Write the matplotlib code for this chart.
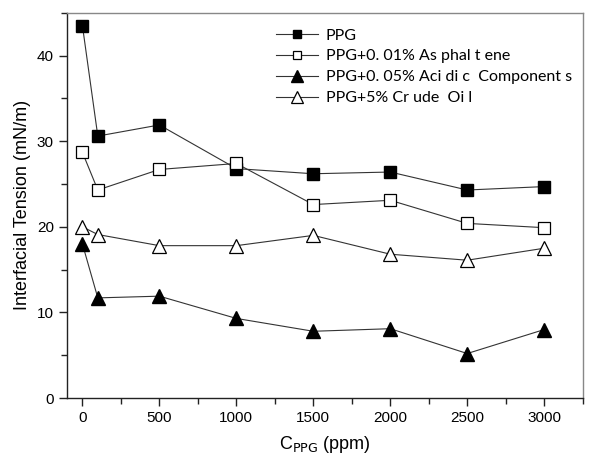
import matplotlib
matplotlib.use("Agg")
import matplotlib.pyplot as plt
from matplotlib.ticker import MultipleLocator

plt.rcParams['font.family'] = ['Liberation Sans', 'DejaVu Sans']

x = [0, 100, 500, 1000, 1500, 2000, 2500, 3000]
ppg = [43.5, 30.6, 31.9, 26.8, 26.2, 26.4, 24.3, 24.7]
asph = [28.7, 24.3, 26.7, 27.4, 22.6, 23.1, 20.4, 19.9]
acid = [18.0, 11.7, 11.9, 9.3, 7.8, 8.1, 5.2, 8.0]
crude = [20.0, 19.1, 17.8, 17.8, 19.0, 16.8, 16.1, 17.5]
labels = ["PPG", "PPG+0. 01% As phal t ene", "PPG+0. 05% Aci di c  Component s", "PPG+5% Cr ude  Oi l"]

fig = plt.figure(figsize=(5.9, 4.57), dpi=100)
ax = fig.add_axes([0.1136, 0.129, 0.874, 0.843])

lw = 0.8
ax.plot(x, ppg, color='#333333', lw=lw, marker='s', ms=8, mfc='black', mec='black', label=labels[0])
ax.plot(x, asph, color='#333333', lw=lw, marker='s', ms=8, mfc='white', mec='black', mew=0.9, label=labels[1])
ax.plot(x, acid, color='#333333', lw=lw, marker='^', ms=10, mfc='black', mec='black', label=labels[2])
ax.plot(x, crude, color='#333333', lw=lw, marker='^', ms=10, mfc='white', mec='black', mew=0.9, label=labels[3])

ax.set_xlim(-100, 3250)
ax.set_ylim(0, 45)
ax.xaxis.set_major_locator(MultipleLocator(500))
ax.xaxis.set_minor_locator(MultipleLocator(250))
ax.yaxis.set_major_locator(MultipleLocator(10))
ax.yaxis.set_minor_locator(MultipleLocator(5))
ax.tick_params(which='both', direction='out', top=False, right=False, labelsize=11, color='#222222')
ax.tick_params(which='major', length=6, width=1)
ax.tick_params(which='minor', length=4, width=1)
for k, s in ax.spines.items():
    s.set_linewidth(1)
    s.set_color('#222222' if k in ('left', 'bottom') else '#888888')

ax.set_ylabel('Interfacial Tension (mN/m)', fontsize=13)
ax.set_xlabel(r'C$_{\mathrm{PPG}}$ (ppm)', fontsize=13, labelpad=6)

leg = ax.legend(loc='upper left', bbox_to_anchor=(262 / 590, 1 - 14 / 457), bbox_transform=fig.transFigure,
                frameon=False, handlelength=2.6, borderpad=0.4, markerscale=0.8,
                labelspacing=0.42, handletextpad=0.5, prop={'family': ['Lato', 'DejaVu Sans'], 'size': 11.5})

fig.savefig('out.png', dpi=100)
